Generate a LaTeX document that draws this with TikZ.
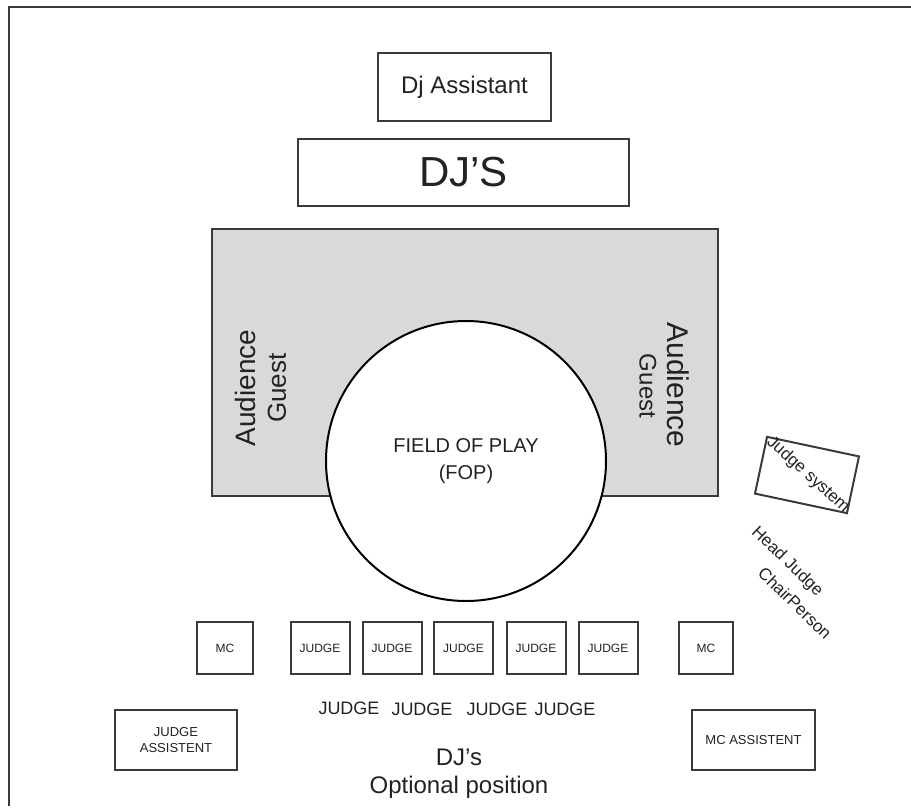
\documentclass[tikz,border=0pt]{standalone}
\usepackage{fontspec}
\setmainfont{Liberation Sans}
\usepackage{tikz}
\usetikzlibrary{shapes.geometric, positioning}
\definecolor{lineGray}{HTML}{3A3A3A}
\definecolor{areaGray}{HTML}{D9D9D9}
\definecolor{inkGray}{HTML}{222222}
\tikzstyle{box} = [rectangle, draw=lineGray, line width=1pt, fill=white, inner sep=0pt, text=inkGray, align=center]
\tikzstyle{desk} = [box, minimum width=29.5pt, minimum height=26pt, font=\fontsize{6}{7}\selectfont]
\tikzstyle{assist} = [box, minimum width=61pt, minimum height=30pt, font=\fontsize{6.5}{8}\selectfont]
\tikzstyle{label} = [inner sep=0pt, text=inkGray, align=center]

\begin{document}
\begin{tikzpicture}[x=0.5pt, y=-0.5pt]
		\useasboundingbox (0,0) rectangle (911,809);
		\draw [lineGray, line width=1pt] (9,806) -- (9,7) -- (911,7);
		% top
		\node (djassist) [box, minimum width=86.5pt, minimum height=34pt, font=\fontsize{12}{14}\selectfont] at (464.5,87) {Dj Assistant};
		\node (djs) [box, minimum width=165.5pt, minimum height=33.5pt, font=\fontsize{21}{24}\selectfont] at (463.5,172.5) {DJ'S};
		% audience and field
		\node (audience) [box, fill=areaGray, minimum width=253pt, minimum height=133.5pt] at (465,362.5) {};
		\node (audleft) [label, rotate=90, font=\fontsize{14}{16}\selectfont] at (245,388) {Audience};
		\node (guestleft) [label, rotate=90, font=\fontsize{13}{15}\selectfont] at (277,388) {Guest};
		\node (audright) [label, rotate=-90, font=\fontsize{15}{17}\selectfont] at (678,385) {Audience};
		\node (guestright) [label, rotate=-90, font=\fontsize{12}{14}\selectfont] at (648,386) {Guest};
		\node (fop) [circle, draw=black, line width=1pt, fill=white, minimum size=140pt, inner sep=0pt, text=inkGray, align=center, font=\fontsize{10}{13.5}\selectfont] at (466,461) {FIELD OF PLAY\\(FOP)};
		% judge system
		\node (jsystem) [box, minimum width=47pt, minimum height=29pt, rotate=-12] at (807,475) {};
		\node (jsystemtext) [label, rotate=-42, font=\fontsize{8.5}{10}\selectfont] at (808,475) {Judge system};
		\node (headjudge) [label, rotate=-44, font=\fontsize{8.5}{10}\selectfont] at (787,562) {Head Judge};
		\node (chair) [label, rotate=-44, font=\fontsize{8.5}{10}\selectfont] at (795,603) {ChairPerson};
		% table row
		\node (mcleft) [desk, minimum width=28pt] at (225,648) {MC};
		\node (judgeA) [desk] at (320,648) {JUDGE};
		\node (judgeB) [desk] at (392,648) {JUDGE};
		\node (judgeC) [desk] at (463.5,648) {JUDGE};
		\node (judgeD) [desk] at (536,648) {JUDGE};
		\node (judgeE) [desk] at (608,648) {JUDGE};
		\node (mcright) [desk, minimum width=27pt] at (706,648) {MC};
		\node (jlabelA) [label, font=\fontsize{9}{10}\selectfont] at (349,708) {JUDGE};
		\node (jlabelB) [label, font=\fontsize{9}{10}\selectfont] at (422,709) {JUDGE};
		\node (jlabelC) [label, font=\fontsize{9}{10}\selectfont] at (497,709) {JUDGE};
		\node (jlabelD) [label, font=\fontsize{9}{10}\selectfont] at (565,709) {JUDGE};
		% bottom
		\node (jassist) [assist] at (176,740) {JUDGE\\ASSISTENT};
		\node (mcassist) [assist, minimum width=61.5pt] at (753.5,740) {MC ASSISTENT};
		\node (djoptional) [label, font=\fontsize{12}{14}\selectfont] at (459,774) {DJ's\\Optional position};
	\end{tikzpicture}
\end{document}
